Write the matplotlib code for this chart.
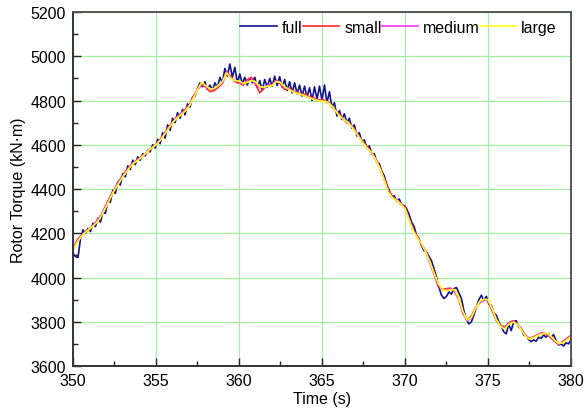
import numpy as np
import matplotlib
matplotlib.use("Agg")
import matplotlib.pyplot as plt
from matplotlib.ticker import MultipleLocator

# rotor torque (kN*m) for four mesh resolutions
t_full = np.linspace(350, 380, 201)
full = [4110, 4095, 4090, 4175, 4215, 4200, 4222, 4208, 4245, 4230,
        4268, 4250, 4295, 4290, 4345, 4340, 4395, 4380, 4432, 4418,
        4470, 4455, 4505, 4488, 4530, 4510, 4545, 4530, 4560, 4550,
        4575, 4568, 4600, 4585, 4625, 4605, 4655, 4630, 4690, 4665,
        4720, 4700, 4745, 4720, 4760, 4735, 4785, 4770, 4815, 4820,
        4855, 4880, 4862, 4885, 4850, 4870, 4848, 4880, 4858, 4905,
        4880, 4945, 4910, 4965, 4905, 4950, 4880, 4920, 4875, 4905,
        4870, 4900, 4880, 4905, 4860, 4890, 4845, 4895, 4860, 4900,
        4865, 4910, 4868, 4908, 4860, 4895, 4845, 4885, 4835, 4880,
        4830, 4870, 4820, 4865, 4815, 4858, 4800, 4862, 4805, 4865,
        4800, 4870, 4790, 4840, 4770, 4790, 4730, 4755, 4715, 4740,
        4700, 4720, 4675, 4690, 4640, 4655, 4615, 4622, 4585, 4595,
        4560, 4560, 4520, 4515, 4480, 4460, 4420, 4395, 4365, 4370,
        4345, 4355, 4330, 4325, 4310, 4285, 4250, 4230, 4190, 4175,
        4145, 4120, 4115, 4095, 4075, 4040, 4000, 3955, 3920, 3905,
        3915, 3935, 3925, 3950, 3955, 3930, 3905, 3850, 3810, 3790,
        3800, 3830, 3865, 3900, 3920, 3895, 3915, 3880, 3875, 3840,
        3830, 3800, 3780, 3755, 3745, 3790, 3760, 3800, 3805, 3775,
        3770, 3740, 3735, 3720, 3710, 3718, 3712, 3730, 3725, 3740,
        3730, 3745, 3728, 3742, 3715, 3695, 3700, 3690, 3705, 3700,
        3718]

t = np.linspace(350, 380, 121)
small = [4130, 4170, 4190, 4210, 4215, 4240, 4262, 4290, 4330, 4368,
         4400, 4435, 4462, 4488, 4510, 4525, 4540, 4555, 4568, 4588,
         4602, 4625, 4650, 4680, 4702, 4725, 4740, 4760, 4778, 4820,
         4850, 4870, 4862, 4840, 4845, 4860, 4878, 4930, 4910, 4885,
         4880, 4870, 4895, 4905, 4872, 4835, 4855, 4870, 4872, 4890,
         4875, 4850, 4858, 4838, 4840, 4825, 4830, 4815, 4812, 4800,
         4805, 4798, 4785, 4758, 4740, 4720, 4700, 4690, 4665, 4635,
         4610, 4590, 4560, 4535, 4495, 4445, 4395, 4365, 4350, 4330,
         4318, 4265, 4215, 4185, 4150, 4120, 4065, 4015, 3960, 3945,
         3950, 3952, 3935, 3900, 3835, 3810, 3825, 3865, 3885, 3900,
         3895, 3850, 3805, 3785, 3775, 3795, 3805, 3790, 3770, 3740,
         3725, 3732, 3742, 3750, 3745, 3730, 3712, 3698, 3710, 3725,
         3738]
medium = [4128, 4165, 4188, 4205, 4222, 4238, 4258, 4288, 4325, 4362,
          4398, 4430, 4458, 4484, 4508, 4524, 4538, 4552, 4572, 4586,
          4600, 4622, 4648, 4675, 4700, 4722, 4738, 4755, 4776, 4812,
          4852, 4875, 4865, 4850, 4852, 4865, 4882, 4928, 4905, 4890,
          4885, 4875, 4885, 4892, 4880, 4858, 4860, 4868, 4870, 4888,
          4880, 4858, 4852, 4842, 4835, 4828, 4822, 4812, 4808, 4802,
          4798, 4795, 4784, 4760, 4738, 4720, 4702, 4688, 4662, 4632,
          4608, 4585, 4562, 4532, 4492, 4442, 4390, 4362, 4350, 4335,
          4312, 4262, 4212, 4180, 4152, 4118, 4068, 4018, 3970, 3945,
          3942, 3948, 3942, 3902, 3840, 3805, 3818, 3860, 3890, 3900,
          3898, 3858, 3808, 3782, 3770, 3790, 3800, 3792, 3768, 3738,
          3722, 3730, 3740, 3748, 3748, 3735, 3715, 3700, 3706, 3720,
          3735]
large = [4125, 4160, 4185, 4205, 4220, 4235, 4255, 4285, 4320, 4360,
         4395, 4425, 4455, 4480, 4505, 4522, 4535, 4552, 4570, 4585,
         4600, 4620, 4645, 4672, 4700, 4720, 4735, 4752, 4775, 4810,
         4850, 4882, 4868, 4852, 4855, 4868, 4885, 4925, 4900, 4890,
         4888, 4878, 4882, 4890, 4885, 4862, 4860, 4865, 4868, 4885,
         4882, 4862, 4850, 4840, 4832, 4828, 4820, 4812, 4805, 4800,
         4797, 4795, 4782, 4760, 4735, 4718, 4705, 4685, 4660, 4632,
         4605, 4582, 4565, 4530, 4490, 4440, 4385, 4360, 4348, 4332,
         4310, 4260, 4210, 4178, 4155, 4115, 4070, 4020, 3975, 3945,
         3940, 3945, 3945, 3905, 3845, 3808, 3820, 3860, 3892, 3902,
         3900, 3860, 3810, 3780, 3767, 3788, 3798, 3790, 3765, 3735,
         3722, 3728, 3738, 3745, 3750, 3738, 3718, 3702, 3705, 3718,
         3732]

plt.rcParams['font.family'] = ['Liberation Sans', 'DejaVu Sans']
plt.rcParams['font.size'] = 11.5

fig = plt.figure(figsize=(5.84, 4.14), dpi=100)
ax = fig.add_axes([0.125, 0.1135, 0.8527, 0.855])

ax.plot(t_full, full, color='#14148c', lw=1.2, label='full')
ax.plot(t, small, color='#ff2a2a', lw=1.2, label='small')
ax.plot(t, medium, color='#ff33ff', lw=1.2, label='medium')
ax.plot(t, large, color='#ffff1a', lw=1.2, label='large')

ax.set_xlim(350, 380)
ax.set_ylim(3600, 5200)
ax.xaxis.set_major_locator(MultipleLocator(5))
ax.xaxis.set_minor_locator(MultipleLocator(2.5))
ax.yaxis.set_major_locator(MultipleLocator(200))
ax.yaxis.set_minor_locator(MultipleLocator(100))
ax.tick_params(which='both', direction='in', top=False, right=False,
               colors='#222222', labelcolor='black', width=1)
ax.tick_params(which='major', length=6, pad=5)
ax.tick_params(which='minor', length=3.5)

ax.grid(True, which='major', color='#a2f2a2', lw=0.9)
ax.set_axisbelow(True)
for side in ['left', 'bottom']:
    ax.spines[side].set_color('#333333')
    ax.spines[side].set_linewidth(1.4)
for side in ['top', 'right']:
    ax.spines[side].set_color('#555555')
    ax.spines[side].set_linewidth(1.4)

ax.set_xlabel('Time (s)', labelpad=2)
ax.set_ylabel('Rotor Torque (kN·m)', labelpad=3)

ax.legend(loc='upper right', ncol=4, frameon=False, handlelength=2.3,
          handletextpad=0.3, columnspacing=0.0, borderaxespad=0.2,
          fontsize=11.5, bbox_to_anchor=(0.991, 1.005))

fig.savefig('out.png', dpi=100)
